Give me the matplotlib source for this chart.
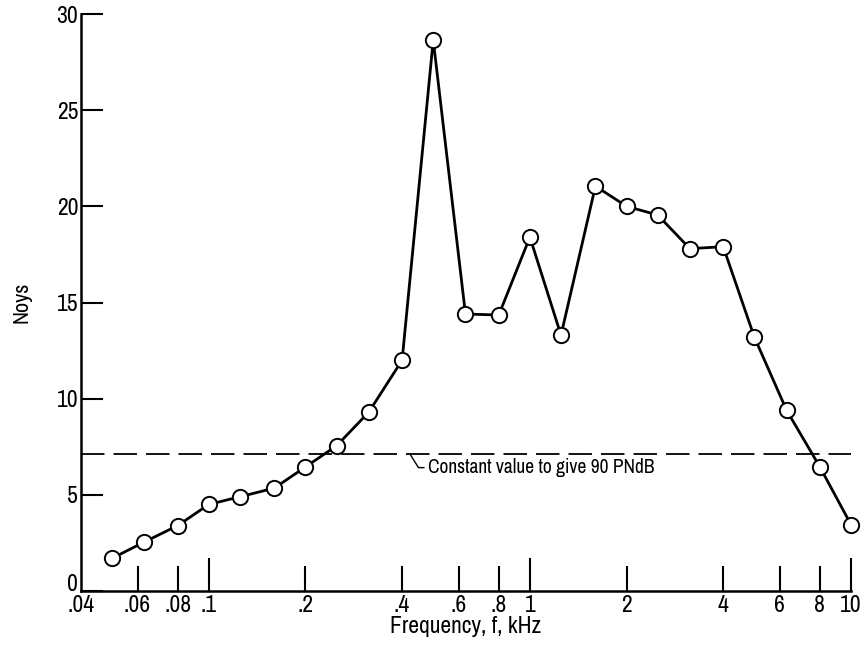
import matplotlib
matplotlib.use("Agg")
import matplotlib.pyplot as plt
import matplotlib.transforms as mtransforms
from matplotlib.ticker import FixedLocator, FixedFormatter, NullLocator
from matplotlib import font_manager

# One-third-octave band centre frequencies (kHz) and perceived noisiness (noys)
freq_khz = [0.05, 0.063, 0.08, 0.1, 0.125, 0.16, 0.2, 0.25, 0.315, 0.4, 0.5, 0.63,
            0.8, 1.0, 1.25, 1.6, 2.0, 2.5, 3.15, 4.0, 5.0, 6.3, 8.0, 10.0]
noys = [1.7, 2.55, 3.4, 4.5, 4.9, 5.35, 6.45, 7.55, 9.3, 12.0, 28.65, 14.4,
        14.35, 18.4, 13.3, 21.05, 20.0, 19.55, 17.8, 17.9, 13.2, 9.4, 6.45, 3.45]

# Constant noisiness giving 90 PNdB
constant_noys = 7.1

xtick_vals = [0.04, 0.06, 0.08, 0.1, 0.2, 0.4, 0.6, 0.8, 1, 2, 4, 6, 8, 10]
xtick_labels = [".04", ".06", ".08", ".1", ".2", ".4", ".6", ".8", "1", "2", "4", "6", "8", "10"]
decade_ticks = [0.1, 1, 10]
ytick_vals = [0, 5, 10, 15, 20, 25, 30]

# Prefer a narrow sans face if one is installed
narrow = None
for f in font_manager.fontManager.ttflist:
    if f.style != "normal" or f.weight not in (400, "normal", "regular"):
        continue
    if "Narrow" in f.name or "Condensed" in f.name:
        narrow = (f.name, "normal")
        break
    if f.stretch in ("condensed", "semi-condensed") and f.name in (
            "DejaVu Sans", "Noto Sans", "Roboto", "Open Sans"):
        narrow = (f.name, f.stretch)
if narrow:
    plt.rcParams["font.family"] = [narrow[0], "DejaVu Sans"]
    plt.rcParams["font.stretch"] = narrow[1]
else:
    plt.rcParams["font.family"] = ["DejaVu Sans"]

fig = plt.figure(figsize=(8.64, 6.48), dpi=100)
ax = fig.add_axes([81 / 864, 1 - 591 / 648, (851 - 81) / 864, (591 - 14) / 648])

ax.plot(freq_khz, noys, color="black", lw=2.0, marker="o", ms=11,
        mfc="white", mec="black", mew=1.4, zorder=3, clip_on=False)

ax.axhline(constant_noys, color="black", lw=1.3, dashes=(13, 5), zorder=2)

ax.annotate("Constant value to give 90 PNdB", xy=(0.424, constant_noys),
            xytext=(13, -9.5), textcoords="offset points", ha="left", va="center",
            fontsize=14,
            arrowprops=dict(arrowstyle="-", color="black", lw=1.0,
                            shrinkA=1, shrinkB=0,
                            connectionstyle="angle,angleA=0,angleB=122,rad=0"))

ax.set_xscale("log")
ax.set_xlim(0.04, 10)
ax.set_ylim(0, 30)

ax.xaxis.set_major_locator(FixedLocator(xtick_vals))
ax.xaxis.set_major_formatter(FixedFormatter(xtick_labels))
ax.xaxis.set_minor_locator(NullLocator())
ax.yaxis.set_major_locator(FixedLocator(ytick_vals))

ax.tick_params(axis="x", direction="in", length=18, width=1.5, labelsize=17, pad=3)
ax.tick_params(axis="y", direction="in", length=16, width=1.5, labelsize=17, pad=2)

# Longer ticks at each decade, none at the axis corner
for val, tick in zip(xtick_vals, ax.xaxis.get_major_ticks()):
    if val in decade_ticks:
        tick.tick1line.set_markersize(24)
    if val == 0.04:
        tick.tick1line.set_markersize(0)

# Lift the "0" label so it sits just above the x-axis labels
zero_tick = ax.yaxis.get_major_ticks()[0]
zero_tick.label1.set_transform(zero_tick.label1.get_transform()
                               + mtransforms.ScaledTranslation(0, 6 / 72, fig.dpi_scale_trans))

for side in ("top", "right"):
    ax.spines[side].set_visible(False)
for side in ("left", "bottom"):
    ax.spines[side].set_linewidth(1.8)

ax.set_xlabel("Frequency, f, kHz", fontsize=17, labelpad=0)
ax.set_ylabel("Noys", fontsize=16, labelpad=18)

fig.savefig("out.png", dpi=100)
